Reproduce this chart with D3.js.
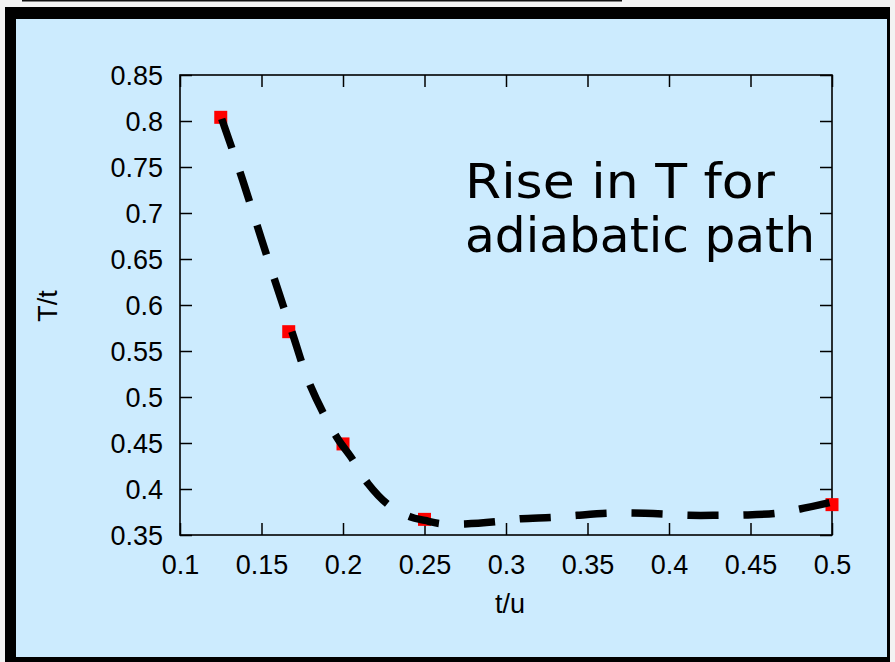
<!DOCTYPE html>
<html>
<head>
<meta charset="utf-8">
<script src="https://cdn.jsdelivr.net/npm/d3@7"></script>
<style>
  html, body { margin: 0; padding: 0; background: #f3f3f3; }
  svg { display: block; }
</style>
</head>
<body>
<svg id="chart" width="895" height="662"></svg>
<script>
// ---- data ----
const xTicks = [0.1, 0.15, 0.2, 0.25, 0.3, 0.35, 0.4, 0.45, 0.5];
const yTicks = [0.35, 0.4, 0.45, 0.5, 0.55, 0.6, 0.65, 0.7, 0.75, 0.8, 0.85];
const pointU = [0.125, 0.1667, 0.2, 0.25, 0.5];
const pointT = [0.804, 0.571, 0.449, 0.367, 0.383];
const fitU = [0.1252, 0.1368, 0.1472, 0.1577, 0.1687, 0.1798, 0.1961, 0.2053, 0.2153, 0.2276, 0.2411, 0.2503, 0.2601, 0.2748, 0.2945, 0.3092, 0.3282, 0.3436, 0.3626, 0.3779, 0.3969, 0.4123, 0.4313, 0.4466, 0.4656, 0.4804, 0.5];
const fitT = [0.8043, 0.7446, 0.6870, 0.6293, 0.5707, 0.5130, 0.4565, 0.4337, 0.4060, 0.3832, 0.3699, 0.3658, 0.3623, 0.3620, 0.3645, 0.3677, 0.3692, 0.3714, 0.3736, 0.3739, 0.3728, 0.3714, 0.3714, 0.3717, 0.3736, 0.3783, 0.3859];
const xLabel = "t/u";
const yLabel = "T/t";
const noteLines = ["Rise in T for", "adiabatic path"];

// ---- layout ----
const svg = d3.select("#chart");
const plot = { left: 180, right: 832, top: 75, bottom: 535 };

// outer frame
svg.append("rect").attr("x", 22).attr("y", 0).attr("width", 600).attr("height", 1.5).attr("fill", "#111");
svg.append("rect").attr("x", 5).attr("y", 7).attr("width", 885).attr("height", 660).attr("fill", "#000");
svg.append("rect").attr("x", 16).attr("y", 19).attr("width", 871).attr("height", 638).attr("fill", "#ccebfe");

const x = d3.scaleLinear().domain([0.1, 0.5]).range([plot.left, plot.right]);
const y = d3.scaleLinear().domain([0.35, 0.85]).range([plot.bottom, plot.top]);

const tickLen = 12;
const fontTick = "27px 'Liberation Sans', Arial, sans-serif";

// axes (ticks inward, mirrored)
const axB = svg.append("g").attr("transform", `translate(0,${plot.bottom})`)
  .call(d3.axisBottom(x).tickValues(xTicks).tickSize(-tickLen).tickPadding(tickLen + 10).tickFormat(d3.format("")));
const axT = svg.append("g").attr("transform", `translate(0,${plot.top})`)
  .call(d3.axisTop(x).tickValues(xTicks).tickSize(-tickLen).tickFormat(""));
const axL = svg.append("g").attr("transform", `translate(${plot.left},0)`)
  .call(d3.axisLeft(y).tickValues(yTicks).tickSize(-tickLen).tickPadding(tickLen + 5).tickFormat(d3.format("")));
const axR = svg.append("g").attr("transform", `translate(${plot.right},0)`)
  .call(d3.axisRight(y).tickValues(yTicks).tickSize(-tickLen).tickFormat(""));

[axB, axT, axL, axR].forEach(g => {
  g.select(".domain").remove();
  g.selectAll(".tick line").attr("stroke", "#000").attr("stroke-width", 1.5);
  g.selectAll("text").style("font", fontTick).attr("fill", "#000");
});
axB.selectAll("text").attr("dy", "0.71em").attr("y", 20);
axL.selectAll("text").attr("dy", "0.36em");

// frame
svg.append("rect")
  .attr("x", plot.left).attr("y", plot.top)
  .attr("width", plot.right - plot.left).attr("height", plot.bottom - plot.top)
  .attr("fill", "none").attr("stroke", "#000").attr("stroke-width", 1.6);

// axis titles
svg.append("text").attr("x", 510).attr("y", 613).attr("text-anchor", "middle")
  .style("font", fontTick).text(xLabel);
svg.append("text").attr("transform", "translate(57,306) rotate(-90)").attr("text-anchor", "middle")
  .style("font", fontTick).text(yLabel);

// red squares
const sq = 13;
svg.append("g").selectAll("rect").data(pointU.map((u, i) => [u, pointT[i]])).join("rect")
  .attr("x", d => x(d[0]) - sq / 2).attr("y", d => y(d[1]) - sq / 2)
  .attr("width", sq).attr("height", sq).attr("fill", "#ff0000");

// dashed fit curve
const line = d3.line().x(d => x(d[0])).y(d => y(d[1])).curve(d3.curveCatmullRom.alpha(0.5));
svg.append("path").datum(fitU.map((u, i) => [u, fitT[i]]))
  .attr("d", line).attr("fill", "none").attr("stroke", "#000")
  .attr("stroke-width", 7.5).attr("stroke-dasharray", "31,25").attr("stroke-dashoffset", -2);

// annotation
const note = svg.append("g").style("font-family", "'DejaVu Sans', sans-serif").style("font-size", "48px");
note.append("text").attr("x", 465).attr("y", 198).attr("textLength", 310).attr("lengthAdjust", "spacingAndGlyphs").text(noteLines[0]);
note.append("text").attr("x", 465).attr("y", 252).attr("textLength", 350).attr("lengthAdjust", "spacingAndGlyphs").text(noteLines[1]);
</script>
</body>
</html>
